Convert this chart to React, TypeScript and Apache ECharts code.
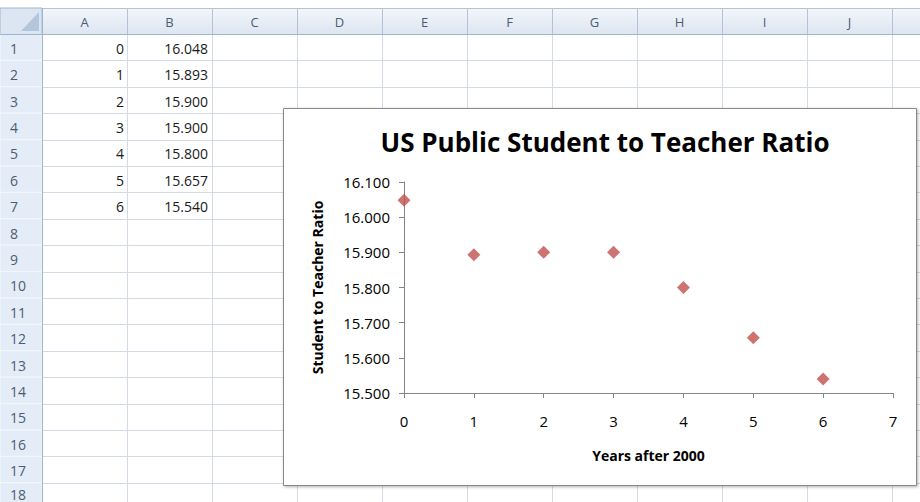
import React, { useEffect, useRef } from "react";
import * as echarts from "echarts";

const columnLetters = ["A", "B", "C", "D", "E", "F", "G", "H", "I", "J", ""];
const rowNumbers = ["1", "2", "3", "4", "5", "6", "7", "8", "9", "10", "11", "12", "13", "14", "15", "16", "17", "18"];
const years = [0, 1, 2, 3, 4, 5, 6];
const ratios = [16.048, 15.893, 15.9, 15.9, 15.8, 15.657, 15.54];
const chartTitle = "US Public Student to Teacher Ratio";
const xTitle = "Years after 2000";
const yTitle = "Student to Teacher Ratio";

const FONT = "'Open Sans', 'Noto Sans', sans-serif";

export default function App() {
  const ref = useRef<HTMLDivElement>(null);
  useEffect(() => {
    document.body.style.margin = "0";
    const chart = echarts.init(ref.current!, null, { renderer: "svg" });

    const headerTop = 8;
    const headerH = 26;
    const rowH = 26.4;
    const rowHeadW = 42;
    const colW = 85;
    const gridTop = headerTop + headerH;

    const els: any[] = [];
    // grid lines in cell area
    for (let i = 0; i <= rowNumbers.length; i++) {
      const y = Math.round(gridTop + rowH * i) + 0.5;
      els.push({ type: "line", z: 1, shape: { x1: rowHeadW, y1: y, x2: 920, y2: y }, style: { stroke: "#D4DAE6", lineWidth: 1 } });
    }
    for (let j = 0; j <= columnLetters.length; j++) {
      const x = Math.round(rowHeadW + colW * j) + 0.5;
      els.push({ type: "line", z: 1, shape: { x1: x, y1: gridTop, x2: x, y2: 502 }, style: { stroke: "#D4DAE6", lineWidth: 1 } });
    }
    // corner
    els.push({ type: "rect", z: 2, shape: { x: 0, y: headerTop, width: rowHeadW, height: headerH }, style: { fill: "#DCE6F3", stroke: "#9EB6CE", lineWidth: 1 } });
    els.push({ type: "polygon", z: 3, shape: { points: [[39, 12], [39, 31], [21, 31]] }, style: { fill: "#B4C6DC" } });
    // column headers
    columnLetters.forEach((c, j) => {
      const x = rowHeadW + colW * j;
      els.push({
        type: "rect", z: 2,
        shape: { x: x + 0.5, y: headerTop + 0.5, width: colW, height: headerH },
        style: {
          fill: new echarts.graphic.LinearGradient(0, 0, 0, 1, [
            { offset: 0, color: "#F3F6FB" },
            { offset: 1, color: "#DCE5F1" },
          ]),
          stroke: "#B2C3D8", lineWidth: 1,
        },
      });
      els.push({
        type: "text", z: 3,
        style: { text: c, x: x + colW / 2, y: headerTop + headerH / 2 + 1, align: "center", verticalAlign: "middle", fill: "#4C5C74", font: `13px ${FONT}` },
      });
    });
    els.push({ type: "line", z: 3, shape: { x1: 0, y1: gridTop + 0.5, x2: 920, y2: gridTop + 0.5 }, style: { stroke: "#9EB6CE", lineWidth: 1 } });
    // row headers
    rowNumbers.forEach((r, i) => {
      const y = gridTop + rowH * i;
      els.push({ type: "rect", z: 2, shape: { x: 0, y: y, width: rowHeadW, height: rowH }, style: { fill: "#E4ECF7", stroke: "#F4F7FB", lineWidth: 1 } });
      els.push({
        type: "text", z: 3,
        style: { text: r, x: 10, y: Math.min(y + rowH / 2 + 1, 494), align: "left", verticalAlign: "middle", fill: "#4C5C74", font: `14px ${FONT}` },
      });
    });
    els.push({ type: "line", z: 3, shape: { x1: rowHeadW + 0.5, y1: headerTop, x2: rowHeadW + 0.5, y2: 502 }, style: { stroke: "#9EB6CE", lineWidth: 1 } });
    // cell values
    years.forEach((yv, i) => {
      const y = gridTop + rowH * i + rowH / 2 + 1;
      els.push({ type: "text", z: 3, style: { text: String(yv), x: 124, y, align: "right", verticalAlign: "middle", fill: "#1a1a1a", font: `14px ${FONT}` } });
      els.push({ type: "text", z: 3, style: { text: ratios[i].toFixed(3), x: 208, y, align: "right", verticalAlign: "middle", fill: "#1a1a1a", font: `14px ${FONT}` } });
    });
    // chart box
    els.push({
      type: "rect", z: 5,
      shape: { x: 283.5, y: 108.5, width: 633, height: 377 },
      style: { fill: "#ffffff", stroke: "#8A8A8A", lineWidth: 1, shadowBlur: 3, shadowColor: "rgba(0,0,0,0.3)", shadowOffsetX: 1, shadowOffsetY: 1 },
    });

    chart.setOption({
      animation: false,
      title: {
        text: chartTitle,
        left: 600,
        top: 124,
        textAlign: "center",
        z: 20,
        textStyle: { fontFamily: FONT, fontWeight: "bold", fontSize: 26, color: "#000" },
      },
      grid: { left: 404, top: 182, right: 27, bottom: 109, z: 10 },
      xAxis: {
        type: "value",
        min: 0,
        max: 7,
        interval: 1,
        z: 10,
        name: xTitle,
        nameLocation: "middle",
        nameGap: 55,
        nameTextStyle: { fontFamily: FONT, fontWeight: "bold", fontSize: 14, color: "#000" },
        axisLine: { show: true, onZero: false, lineStyle: { color: "#868686", width: 1 } },
        axisTick: { show: true, inside: false, length: 5, lineStyle: { color: "#868686" } },
        axisLabel: { color: "#000", fontFamily: FONT, fontSize: 15, margin: 20 },
        splitLine: { show: false },
      },
      yAxis: {
        type: "value",
        min: 15.5,
        max: 16.1,
        interval: 0.1,
        z: 10,
        name: yTitle,
        nameLocation: "middle",
        nameRotate: 90,
        nameGap: 80,
        nameTextStyle: { fontFamily: FONT, fontWeight: "bold", fontSize: 14, color: "#000" },
        axisLine: { show: true, lineStyle: { color: "#868686", width: 1 } },
        axisTick: { show: true, inside: false, length: 5, lineStyle: { color: "#868686" } },
        axisLabel: { color: "#000", fontFamily: FONT, fontSize: 15, margin: 14, formatter: (v: number) => v.toFixed(3) },
        splitLine: { show: false },
      },
      graphic: { elements: els },
      series: [
        {
          type: "scatter",
          z: 20,
          symbol: "diamond",
          symbolSize: 13,
          itemStyle: { color: "#C0504D" },
          data: years.map((x, i) => [x, ratios[i]]),
        },
      ],
    });
    return () => chart.dispose();
  }, []);
  return <div ref={ref} style={{ position: "absolute", left: 0, top: 0, width: 920, height: 502 }} />;
}
